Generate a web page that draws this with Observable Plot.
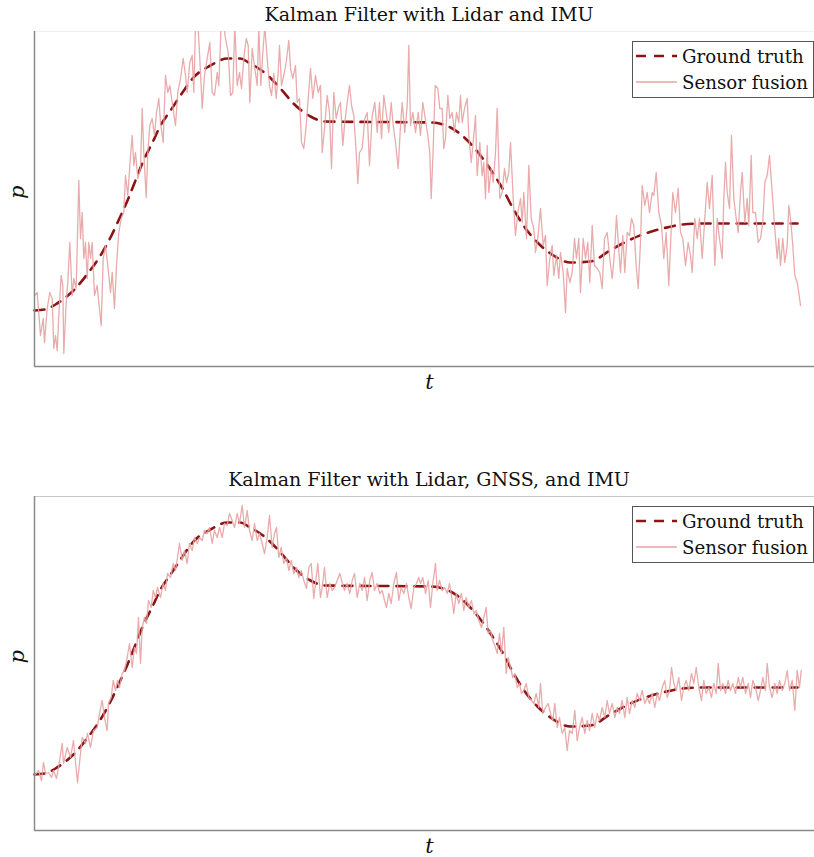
<!DOCTYPE html>
<html><head><meta charset="utf-8">
<script src="https://cdn.jsdelivr.net/npm/d3@7"></script>
<script src="https://cdn.jsdelivr.net/npm/@observablehq/plot@0.6"></script>
<style>
body{margin:0;background:#fff;}
#wrap{position:relative;width:814px;height:857px;font-family:"DejaVu Serif",serif;color:#111;overflow:hidden;}
.title{position:absolute;left:34px;width:790px;text-align:center;font-size:19px;line-height:26px;}
.panel{position:absolute;left:0;}
.legend{position:absolute;left:632px;width:180px;height:55px;border:1px solid #555;background:#fff;font-size:18.2px;}
.legend .row{position:absolute;left:3px;height:26px;display:flex;align-items:center;white-space:nowrap;}
.legend svg{display:block;margin-right:5px;}
</style></head>
<body><div id="wrap"></div>
<script>
const titles = ["Kalman Filter with Lidar and IMU", "Kalman Filter with Lidar, GNSS, and IMU"];
const seriesNames = ["Ground truth", "Sensor fusion"];
const xLabel = "t", yLabel = "p";

const truthT = [0,1.0,2.1,3.1,3.9,5.4,6.6,7.6,8.4,9.3,10.1,10.9,11.8,12.6,13.6,14.8,15.9,17.6,19.3,20.6,21.4,23.1,24.6,25.9,27.6,29.1,39.6,41.6,43.3,44.6,45.8,46.8,47.8,48.9,50.3,51.6,53.6,55.6,57.4,58.8,60.8,62.8,64.8,66.8,76.3];
const truthP = [5.6,5.7,6.2,6.9,7.6,9.4,11.1,12.9,14.6,16.6,18.6,20.6,22.4,24.1,25.6,27.4,28.9,30.1,30.8,30.8,30.4,29.3,27.8,26.3,25.0,24.5,24.4,23.9,22.6,21.1,19.4,17.8,15.9,14.1,12.4,11.3,10.4,10.5,11.5,12.3,13.2,13.8,14.2,14.3,14.3];

const fusionLidarImu = [[0,7.1],[0.27,7.4],[0.6,3.1],[0.87,4.8],[1.0,2.4],[1.27,5.8],[1.53,7.4],[1.77,6.8],[1.93,1.8],[2.1,3.1],[2.27,1.6],[2.43,5.1],[2.67,9.1],[2.83,8.1],[2.93,1.3],[3.17,6.4],[3.33,8.4],[3.53,12.4],[3.77,7.1],[3.93,8.8],[4.17,7.8],[4.43,18.6],[4.6,12.8],[4.77,15.4],[4.93,10.8],[5.1,12.4],[5.27,8.8],[5.43,12.4],[5.6,10.8],[5.77,12.4],[6.0,7.1],[6.27,8.1],[6.43,6.4],[6.67,4.1],[6.87,10.8],[7.1,12.1],[7.33,10.1],[7.6,7.4],[7.77,9.4],[8.0,5.8],[8.2,10.1],[8.43,13.4],[8.67,14.8],[8.93,15.4],[9.1,19.1],[9.33,17.1],[9.6,21.1],[9.77,23.1],[9.93,20.1],[10.1,21.4],[10.33,18.8],[10.6,19.8],[10.77,25.8],[10.93,21.4],[11.17,16.9],[11.33,21.4],[11.53,24.1],[11.77,24.8],[12.0,23.1],[12.2,25.4],[12.43,26.8],[12.6,24.4],[12.87,22.4],[13.1,29.1],[13.33,27.4],[13.53,28.1],[13.77,26.4],[14.1,24.1],[14.33,27.4],[14.6,28.8],[14.87,30.8],[15.1,29.1],[15.27,27.4],[15.53,30.4],[15.77,31.1],[15.93,27.4],[16.1,34.2],[16.33,34.6],[16.53,30.8],[16.77,25.8],[17.0,29.1],[17.27,30.8],[17.53,32.4],[17.77,27.4],[18.0,27.1],[18.27,29.4],[18.43,28.1],[18.67,34.4],[18.93,34.0],[19.1,32.8],[19.37,31.4],[19.6,27.1],[19.83,27.4],[20.03,34.2],[20.27,28.1],[20.5,29.4],[20.7,27.8],[20.93,30.8],[21.17,32.8],[21.37,32.1],[21.53,26.4],[21.77,31.8],[22.03,29.8],[22.27,28.1],[22.43,34.0],[22.63,28.1],[22.83,31.4],[23.03,34.0],[23.27,30.8],[23.5,28.1],[23.7,27.1],[23.93,29.3],[24.17,26.8],[24.37,29.4],[24.5,32.1],[24.7,28.1],[24.93,29.1],[25.17,30.4],[25.43,32.6],[25.6,29.8],[25.83,28.8],[26.1,30.1],[26.27,26.4],[26.5,26.8],[26.7,22.4],[26.93,21.8],[27.17,24.1],[27.37,26.8],[27.6,29.8],[27.83,26.8],[28.1,29.1],[28.37,27.4],[28.6,28.1],[28.77,21.4],[29.03,24.1],[29.27,27.1],[29.5,25.4],[29.7,19.8],[29.93,27.4],[30.17,24.8],[30.37,25.8],[30.6,26.4],[30.83,22.1],[31.03,24.4],[31.27,26.4],[31.5,28.1],[31.7,26.1],[31.93,25.1],[32.17,21.4],[32.33,18.3],[32.5,21.4],[32.77,21.8],[33.03,24.8],[33.27,25.4],[33.5,20.1],[33.77,25.1],[34.03,26.4],[34.27,23.4],[34.5,26.4],[34.7,22.8],[34.93,27.1],[35.17,25.4],[35.43,23.4],[35.67,26.4],[35.87,24.1],[36.1,22.4],[36.37,19.8],[36.6,24.1],[36.77,26.4],[37.03,23.4],[37.27,26.1],[37.43,32.1],[37.6,24.1],[37.83,25.4],[38.1,23.4],[38.37,25.4],[38.6,23.1],[38.83,26.4],[39.03,25.1],[39.33,23.1],[39.53,21.4],[39.67,16.8],[39.87,21.8],[40.07,28.1],[40.33,27.8],[40.53,25.8],[40.77,25.8],[40.93,21.8],[41.1,22.8],[41.33,27.1],[41.53,24.8],[41.77,25.4],[42.0,23.4],[42.2,25.4],[42.43,24.4],[42.6,27.1],[42.77,24.4],[43.0,25.8],[43.27,26.8],[43.43,23.1],[43.67,20.4],[43.87,22.4],[44.1,25.1],[44.27,19.1],[44.53,22.4],[44.77,19.1],[44.93,20.4],[45.1,16.8],[45.27,22.1],[45.43,17.4],[45.67,19.8],[45.87,18.4],[46.1,21.4],[46.27,25.8],[46.53,16.8],[46.77,17.4],[47.0,19.8],[47.2,18.4],[47.43,19.4],[47.6,22.4],[47.87,16.8],[48.1,13.1],[48.33,15.4],[48.6,16.8],[48.77,14.4],[48.93,17.4],[49.2,12.8],[49.43,20.1],[49.67,14.8],[49.93,13.8],[50.1,11.4],[50.33,12.8],[50.6,15.8],[50.87,12.1],[51.1,13.1],[51.27,8.1],[51.53,10.8],[51.77,12.1],[51.93,9.1],[52.2,11.1],[52.43,8.8],[52.6,11.4],[52.87,9.4],[53.1,5.4],[53.27,9.8],[53.53,8.4],[53.77,9.4],[54.0,12.8],[54.2,10.8],[54.43,12.8],[54.6,7.4],[54.87,12.8],[55.1,10.8],[55.33,12.4],[55.53,8.4],[55.77,14.1],[56.0,10.1],[56.27,9.8],[56.53,9.4],[56.77,7.8],[57.0,12.8],[57.27,13.4],[57.53,10.8],[57.77,8.8],[58.0,11.4],[58.2,15.1],[58.45,11.4],[58.6,9.4],[58.83,13.1],[59.03,9.4],[59.27,13.4],[59.5,13.1],[59.7,14.8],[59.93,14.1],[60.17,10.1],[60.37,7.8],[60.6,12.4],[60.77,18.1],[61.03,16.1],[61.27,17.4],[61.5,15.4],[61.77,17.4],[61.93,17.1],[62.17,19.4],[62.43,15.4],[62.7,14.1],[62.93,10.8],[63.17,13.4],[63.43,8.1],[63.6,12.1],[63.83,17.4],[64.1,15.4],[64.37,17.8],[64.6,13.4],[64.83,12.8],[65.1,10.1],[65.37,12.4],[65.6,11.1],[65.77,9.4],[66.03,14.8],[66.27,12.8],[66.5,14.8],[66.77,10.8],[67.03,14.8],[67.27,18.4],[67.5,15.8],[67.77,19.1],[68.03,10.1],[68.27,14.8],[68.5,12.8],[68.77,10.8],[68.93,16.8],[69.1,20.4],[69.27,17.4],[69.5,15.8],[69.7,23.1],[69.93,16.8],[70.17,14.8],[70.37,13.4],[70.6,17.4],[70.77,19.4],[71.03,14.4],[71.27,16.8],[71.43,14.1],[71.67,21.1],[71.83,15.4],[72.1,15.4],[72.37,12.4],[72.6,12.8],[72.83,14.4],[73.03,18.4],[73.27,19.1],[73.5,21.1],[73.77,17.4],[74.03,13.8],[74.27,10.8],[74.43,12.8],[74.6,10.1],[74.83,12.8],[75.03,10.4],[75.27,12.1],[75.43,16.1],[75.6,14.8],[75.83,12.1],[76.03,9.1],[76.27,8.4],[76.43,7.4],[76.6,6.1]];

const fusionLidarGnssImu = [[0,5.5],[0.4,6.0],[0.7,5.0],[0.9,6.8],[1.1,5.7],[1.4,5.8],[1.7,5.3],[1.9,6.0],[2.2,5.2],[2.4,6.3],[2.77,8.7],[2.9,6.7],[3.27,8.3],[3.6,7.3],[3.9,9.0],[4.3,4.8],[4.6,7.7],[4.77,9.3],[5.1,8.7],[5.3,9.7],[5.6,8.3],[5.9,10.0],[6.27,10.3],[6.5,11.7],[6.77,13.0],[7.0,11.3],[7.27,10.0],[7.4,12.7],[7.67,13.3],[7.87,15.0],[8.1,14.0],[8.3,15.0],[8.5,14.3],[8.77,15.7],[9.0,16.0],[9.27,17.3],[9.5,18.7],[9.77,16.3],[10.0,18.3],[10.2,17.7],[10.4,21.3],[10.6,16.7],[10.77,20.3],[11.0,21.3],[11.2,20.7],[11.4,23.0],[11.67,22.3],[11.87,24.0],[12.1,23.3],[12.3,24.3],[12.6,23.3],[12.87,24.7],[13.1,24.0],[13.3,25.7],[13.6,25.3],[13.87,26.7],[14.1,26.0],[14.3,27.3],[14.5,28.7],[14.77,27.0],[15.0,28.0],[15.27,26.7],[15.5,28.7],[15.77,28.0],[16.0,29.3],[16.27,28.7],[16.5,29.3],[16.77,29.0],[17.0,30.0],[17.27,29.7],[17.5,30.3],[17.77,28.7],[18.0,30.0],[18.27,29.3],[18.5,30.3],[18.77,29.3],[19.0,30.7],[19.27,30.5],[19.5,31.7],[19.77,31.0],[20.0,30.3],[20.27,31.7],[20.5,30.7],[20.77,32.5],[21.0,30.3],[21.27,32.0],[21.5,30.0],[21.77,29.0],[22.0,30.7],[22.27,29.0],[22.5,29.7],[22.77,28.7],[23.0,27.7],[23.27,29.3],[23.5,31.5],[23.77,28.3],[24.0,29.7],[24.2,30.3],[24.43,27.3],[24.67,28.3],[24.93,26.7],[25.2,27.3],[25.43,26.0],[25.67,27.0],[25.93,25.7],[26.2,26.3],[26.43,25.3],[26.67,26.0],[26.93,25.0],[27.2,24.2],[27.43,26.3],[27.67,26.7],[27.93,23.2],[28.1,24.7],[28.33,26.7],[28.6,23.3],[28.77,24.3],[29.0,26.3],[29.27,23.3],[29.53,24.7],[29.77,24.0],[30.0,24.3],[30.27,25.0],[30.53,25.7],[30.77,24.8],[31.0,24.0],[31.27,24.7],[31.53,23.7],[31.77,25.0],[32.0,25.7],[32.27,23.3],[32.53,24.7],[32.77,24.0],[33.0,25.3],[33.27,23.0],[33.53,25.0],[33.77,25.8],[34.0,24.0],[34.27,24.7],[34.53,23.7],[34.77,24.0],[35.0,23.0],[35.2,22.3],[35.43,23.7],[35.67,22.7],[35.93,24.7],[36.2,25.8],[36.43,23.0],[36.67,24.3],[36.93,23.7],[37.2,24.7],[37.43,23.3],[37.67,22.2],[37.93,24.3],[38.2,24.7],[38.43,25.3],[38.6,24.7],[38.83,25.3],[39.1,23.7],[39.37,25.0],[39.6,22.3],[39.83,24.7],[40.1,26.7],[40.27,24.0],[40.5,25.0],[40.77,24.0],[41.03,24.3],[41.27,23.7],[41.5,24.7],[41.77,23.0],[41.93,21.7],[42.17,23.7],[42.43,22.7],[42.7,23.7],[42.93,22.0],[43.17,23.3],[43.43,22.3],[43.7,23.0],[43.93,21.7],[44.17,22.0],[44.43,21.0],[44.7,20.3],[44.93,21.3],[45.17,22.3],[45.37,19.7],[45.6,20.0],[45.83,19.0],[46.1,18.3],[46.27,17.7],[46.5,19.7],[46.7,17.7],[46.93,20.3],[47.17,15.7],[47.37,17.3],[47.6,16.3],[47.83,15.3],[48.03,15.7],[48.27,14.3],[48.5,14.7],[48.7,13.7],[48.93,14.0],[49.17,14.7],[49.43,13.3],[49.7,13.0],[49.93,12.7],[50.17,13.7],[50.43,12.3],[50.6,14.7],[50.83,11.7],[51.1,12.3],[51.37,12.7],[51.6,11.7],[51.83,11.0],[52.03,12.7],[52.27,10.3],[52.5,11.3],[52.77,9.7],[53.03,10.3],[53.27,8.0],[53.5,10.0],[53.77,9.7],[54.03,12.0],[54.27,9.0],[54.5,10.3],[54.77,11.3],[55.03,9.7],[55.27,11.0],[55.5,10.0],[55.77,11.7],[56.03,10.3],[56.27,11.7],[56.5,11.0],[56.77,12.3],[57.03,11.3],[57.27,13.0],[57.5,11.7],[57.77,12.7],[58.03,11.3],[58.27,12.3],[58.5,11.7],[58.77,13.0],[59.03,11.3],[59.27,13.3],[59.5,11.7],[59.77,13.0],[60.03,12.3],[60.27,13.7],[60.5,13.0],[60.77,14.0],[61.03,12.7],[61.27,13.3],[61.5,12.7],[61.77,13.7],[62.03,12.3],[62.27,13.7],[62.5,13.0],[62.77,14.3],[63.03,15.0],[63.27,13.3],[63.5,14.0],[63.7,16.3],[63.93,14.7],[64.17,14.0],[64.43,15.3],[64.7,13.0],[64.93,14.3],[65.17,15.0],[65.43,14.0],[65.7,15.7],[65.93,14.7],[66.17,16.3],[66.43,14.3],[66.7,13.0],[66.93,15.0],[67.17,13.7],[67.43,14.3],[67.7,13.3],[67.93,14.7],[68.17,13.7],[68.37,16.7],[68.6,14.0],[68.83,14.7],[69.1,13.7],[69.37,15.0],[69.6,14.0],[69.83,14.7],[70.1,13.7],[70.37,15.3],[70.6,14.3],[70.83,15.3],[71.1,13.7],[71.37,14.7],[71.6,13.3],[71.83,15.0],[72.1,14.3],[72.37,13.0],[72.6,14.0],[72.83,15.3],[73.1,14.0],[73.27,16.7],[73.5,14.3],[73.77,13.3],[74.03,14.7],[74.27,13.7],[74.5,15.0],[74.77,14.0],[75.03,14.7],[75.27,16.0],[75.5,14.0],[75.77,15.0],[76.03,12.0],[76.27,16.0],[76.5,14.3],[76.67,16.0]];

const truthColor = "#8c1414";
const fusionColor = "#e7a2a2";
const serif = "'DejaVu Serif', serif";

const truth = truthT.map((t, i) => ({t, p: truthP[i]}));
const toRows = a => a.map(([t, p]) => ({t, p}));

const wrap = document.getElementById("wrap");

function panel(idx, fusion, top, yMax, plotH, frameTopColor) {
  const title = document.createElement("div");
  title.className = "title";
  title.style.top = (top - 30) + "px";
  title.textContent = titles[idx];
  wrap.appendChild(title);

  const chart = Plot.plot({
    width: 814,
    height: plotH + 34,
    marginLeft: 34, marginRight: 0, marginTop: 0, marginBottom: 34,
    x: {domain: [0, 78], axis: null},
    y: {domain: [0, yMax], axis: null},
    style: {background: "transparent", overflow: "hidden"},
    marks: [
      Plot.ruleY([yMax], {stroke: frameTopColor, strokeWidth: 1}),
      Plot.line(truth, {x: "t", y: "p", stroke: truthColor, strokeWidth: 2.6, strokeDasharray: "10,8", curve: "monotone-x"}),
      Plot.line(toRows(fusion), {x: "t", y: "p", stroke: fusionColor, strokeWidth: 1.3, strokeOpacity: 0.9}),
      Plot.ruleX([0], {stroke: "#8a8a8a", strokeWidth: 1.5}),
      Plot.ruleY([0], {stroke: "#8a8a8a", strokeWidth: 1.5}),
      Plot.text([xLabel], {frameAnchor: "bottom", dy: 22, dx: 5, text: d => d, fontSize: 21, fontStyle: "italic", fontFamily: serif, fill: "#111"}),
      Plot.text([yLabel], {frameAnchor: "left", dx: -17, rotate: -90, text: d => d, fontSize: 21, fontStyle: "italic", fontFamily: serif, fill: "#111"})
    ]
  });
  chart.classList.add("panel");
  chart.style.top = top + "px";
  wrap.appendChild(chart);

  const leg = document.createElement("div");
  leg.className = "legend";
  leg.style.top = (top + 10) + "px";
  seriesNames.forEach((name, i) => {
    const row = document.createElement("div");
    row.className = "row";
    row.style.top = (1 + i * 26) + "px";
    const svg = i === 0
      ? `<svg width="41" height="10"><line x1="0" y1="5" x2="41" y2="5" stroke="${truthColor}" stroke-width="2.6" stroke-dasharray="10,8"/></svg>`
      : `<svg width="41" height="10"><line x1="0" y1="5" x2="41" y2="5" stroke="${fusionColor}" stroke-width="1.3"/></svg>`;
    row.innerHTML = svg + `<span>${name}</span>`;
    leg.appendChild(row);
  });
  wrap.appendChild(leg);
}

panel(0, fusionLidarImu, 31, 33.5, 335, "#f0f0f0");
panel(1, fusionLidarGnssImu, 496, 33.4, 334, "#c8c8c8");
</script>
</body></html>
